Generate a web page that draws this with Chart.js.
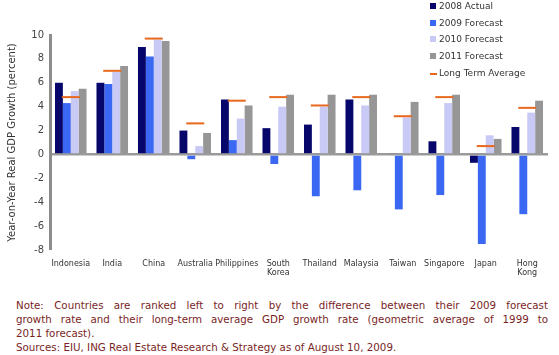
<!DOCTYPE html>
<html>
<head>
<meta charset="utf-8">
<script src="https://cdn.jsdelivr.net/npm/chart.js@4/dist/chart.umd.min.js"></script>
<style>
  html, body { margin: 0; padding: 0; background: #fff; }
  body { width: 559px; height: 355px; position: relative; overflow: hidden; font-family: "DejaVu Sans", Verdana, sans-serif; }
  #wrap { position: absolute; left: 0; top: 0; width: 559px; height: 290px; }
  #legend { position: absolute; left: 430px; top: -2px; font-size: 9px; color: #333; }
  #legend .item { position: relative; height: 16.65px; line-height: 16.65px; padding-left: 9px; white-space: nowrap; }
  #legend .sw { position: absolute; left: 0; top: 5px; width: 6px; height: 6px; }
  #legend .dash { position: absolute; left: 0; top: 8px; width: 7px; height: 2px; background: #e8691e; }
  #note { position: absolute; left: 16px; top: 298px; width: 532px; font-size: 10.3px; line-height: 14px; color: #7a1f1f; }
  #note .j { text-align: justify; text-align-last: justify; white-space: nowrap; }
  #note .l { white-space: nowrap; }
</style>
</head>
<body>
<div id="wrap"><canvas id="c" width="559" height="290"></canvas></div>
<div id="legend"></div>
<div id="note">
  <div class="j">Note: Countries are ranked left to right by the difference between their 2009 forecast</div>
  <div class="j">growth rate and their long-term average GDP growth rate (geometric average of 1999 to</div>
  <div class="l">2011 forecast).</div>
  <div class="l">Sources: EIU, ING Real Estate Research &amp; Strategy as of August 10, 2009.</div>
</div>
<script>
const categories = ["Indonesia", "India", "China", "Australia", "Philippines", ["South", "Korea"], "Thailand", "Malaysia", "Taiwan", "Singapore", "Japan", ["Hong", "Kong"]];
const actual2008   = [6.0, 6.0, 9.0, 2.0, 4.6, 2.2, 2.5, 4.6, 0.1, 1.1, -0.7, 2.3];
const forecast2009 = [4.3, 5.9, 8.2, -0.4, 1.2, -0.8, -3.5, -3.0, -4.6, -3.4, -7.5, -5.0];
const forecast2010 = [5.3, 6.9, 9.6, 0.7, 3.0, 4.0, 4.0, 4.1, 3.1, 4.3, 1.6, 3.5];
const forecast2011 = [5.5, 7.4, 9.5, 1.8, 4.1, 5.0, 5.0, 5.0, 4.4, 5.0, 1.3, 4.5];
const longTermAvg  = [4.8, 7.0, 9.7, 2.6, 4.5, 4.8, 4.1, 4.8, 3.2, 4.8, 0.7, 3.9];
const yTicks = [-8, -6, -4, -2, 0, 2, 4, 6, 8, 10];
const seriesNames = ["2008 Actual", "2009 Forecast", "2010 Forecast", "2011 Forecast", "Long Term Average"];

const colors = ["#07076b", "#3b68f2", "#c9c9f6", "#969696", "#e8691e"];

const barSets = [actual2008, forecast2009, forecast2010, forecast2011].map((d, i) => ({
  type: "bar",
  label: seriesNames[i],
  data: d,
  backgroundColor: colors[i],
  borderWidth: 0,
  barPercentage: 1.0,
  categoryPercentage: 0.76,
  order: 2
}));

const ltaSet = {
  type: "line",
  label: seriesNames[4],
  data: longTermAvg,
  showLine: false,
  pointStyle: "line",
  pointRadius: 9,
  pointHoverRadius: 9,
  borderColor: colors[4],
  backgroundColor: colors[4],
  pointBorderWidth: 2,
  borderWidth: 2,
  order: 1
};

new Chart(document.getElementById("c"), {
  data: { labels: categories, datasets: [...barSets, ltaSet] },
  options: {
    responsive: false,
    animation: false,
    layout: { padding: { top: 35, right: 9, bottom: 0, left: 0 } },
    plugins: { legend: { display: false }, tooltip: { enabled: false } },
    scales: {
      x: {
        offset: true,
        grid: { display: false, drawTicks: false },
        border: { display: false },
        ticks: { color: "#333", font: { family: "DejaVu Sans", size: 8 }, padding: 9, maxRotation: 0, autoSkip: false },
        afterFit: s => { s.height = 40; }
      },
      y: {
        min: -8, max: 10,
        afterBuildTicks: s => { s.ticks = yTicks.map(v => ({ value: v })); },
        grid: {
          drawTicks: false,
          color: ctx => (ctx.tick && ctx.tick.value === 0) ? "#9a9a9a" : "rgba(0,0,0,0)",
          lineWidth: ctx => (ctx.tick && ctx.tick.value === 0) ? 2.5 : 0
        },
        border: { display: true, color: "#8c8c8c", width: 3 },
        ticks: { color: "#444", font: { family: "DejaVu Sans", size: 10 }, padding: 6 },
        title: { display: true, text: "Year-on-Year Real GDP Growth (percent)", color: "#333", font: { family: "DejaVu Sans", size: 10 }, padding: { top: 6, bottom: 2 } },
        afterFit: s => { s.width = 50; }
      }
    }
  }
});

// HTML legend built from the series names/colors
const lg = document.getElementById("legend");
seriesNames.forEach((n, i) => {
  const it = document.createElement("div");
  it.className = "item";
  const sw = document.createElement("span");
  if (i === 4) { sw.className = "dash"; } else { sw.className = "sw"; sw.style.background = colors[i]; }
  it.appendChild(sw);
  it.appendChild(document.createTextNode(n));
  lg.appendChild(it);
});
</script>
</body>
</html>
